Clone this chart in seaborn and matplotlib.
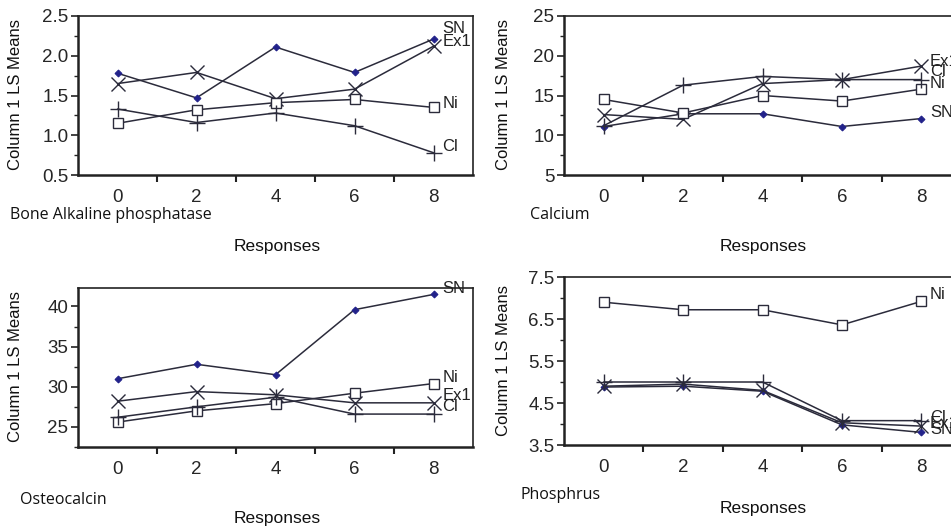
import matplotlib
matplotlib.use("Agg")
import matplotlib.pyplot as plt
import seaborn as sns
import pandas as pd
from matplotlib.ticker import MultipleLocator

# doses on the x axis
responses = [0, 2, 4, 6, 8]
series_names = ["SN", "Ex1", "Ni", "Cl"]

# Bone Alkaline phosphatase
bap_sn = [1.78, 1.47, 2.11, 1.79, 2.21]
bap_ex1 = [1.65, 1.79, 1.46, 1.58, 2.12]
bap_ni = [1.15, 1.32, 1.41, 1.45, 1.35]
bap_cl = [1.33, 1.16, 1.28, 1.12, 0.78]

# Calcium
ca_sn = [11.1, 12.7, 12.7, 11.1, 12.1]
ca_ex1 = [12.6, 12.0, 16.5, 17.0, 18.7]
ca_ni = [14.5, 12.8, 15.0, 14.3, 15.8]
ca_cl = [11.2, 16.3, 17.4, 17.0, 17.0]

# Osteocalcin
oc_sn = [31.0, 32.8, 31.5, 39.6, 41.5]
oc_ex1 = [28.2, 29.4, 29.0, 28.0, 28.0]
oc_ni = [25.6, 27.0, 27.9, 29.2, 30.4]
oc_cl = [26.2, 27.5, 28.7, 26.6, 26.6]

# Phosphrus
ph_sn = [4.88, 4.90, 4.78, 3.98, 3.80]
ph_ex1 = [4.90, 4.95, 4.80, 4.03, 3.95]
ph_ni = [6.90, 6.72, 6.72, 6.36, 6.92]
ph_cl = [5.00, 5.00, 5.00, 4.08, 4.08]

panels = [
    ("Bone Alkaline phosphatase", [bap_sn, bap_ex1, bap_ni, bap_cl]),
    ("Calcium", [ca_sn, ca_ex1, ca_ni, ca_cl]),
    ("Osteocalcin", [oc_sn, oc_ex1, oc_ni, oc_cl]),
    ("Phosphrus", [ph_sn, ph_ex1, ph_ni, ph_cl]),
]

y_ticks = [
    [0.5, 1.0, 1.5, 2.0, 2.5],
    [5, 10, 15, 20, 25],
    [25, 30, 35, 40],
    [3.5, 4.5, 5.5, 6.5, 7.5],
]
y_tick_labels = [
    ["0.5", "1.0", "1.5", "2.0", "2.5"],
    ["5", "10", "15", "20", "25"],
    ["25", "30", "35", "40"],
    ["3.5", "4.5", "5.5", "6.5", "7.5"],
]


def to_long(values):
    rows = []
    for name, vals in zip(series_names, values):
        for x, y in zip(responses, vals):
            rows.append({"Responses": x, "mean": y, "series": name})
    return pd.DataFrame(rows)


sns.set_theme(style="white")
plt.rcParams['font.family'] = ['Liberation Sans', 'DejaVu Sans']

W, H = 951, 528
fig = plt.figure(figsize=(W / 100, H / 100), dpi=100)


def box(l, r, t, b):
    return [l / W, 1 - b / H, (r - l) / W, (b - t) / H]


line_col = "#2b2b3b"
marker_style = {
    "SN": dict(marker="D", markersize=3.5, markerfacecolor="#22228a", markeredgecolor="#22228a"),
    "Ex1": dict(marker="x", markersize=10, markeredgecolor=line_col, markeredgewidth=1.0),
    "Ni": dict(marker="s", markersize=7.5, markerfacecolor="white", markeredgecolor=line_col, markeredgewidth=1.0),
    "Cl": dict(marker="+", markersize=11, markeredgecolor=line_col, markeredgewidth=1.0),
}

axes_boxes = [box(78, 473, 16, 175), box(564, 961, 16, 175),
              box(78, 473, 288, 447), box(564, 961, 277, 445)]
ylims = [(0.5, 2.5), (5, 25), (22.5, 42.3), (3.5, 7.5)]
yminor = [0.25, 2.5, 2.5, 0.5]
# where the series names sit next to the last point (SN, Ex1, Ni, Cl)
name_y = [[2.34, 2.18, 1.40, 0.86],
          [12.8, 19.3, 16.5, 18.0],
          [42.2, 28.9, 31.2, 27.5],
          [3.86, 4.0, 7.08, 4.16]]
# subtitle and "Responses" positions in pixels
sub_pos = [(10, 215), (530, 215), (20, 500), (520, 495)]
resp_pos = [(277, 247), (763, 247), (277, 518), (763, 508)]
ylab_pos = [(16, 95), (503, 95), (16, 367), (503, 360)]

for i, (title, values) in enumerate(panels):
    ax = fig.add_axes(axes_boxes[i])
    df = to_long(values)
    for name in series_names:
        sub = df[df["series"] == name]
        sns.lineplot(data=sub, x="Responses", y="mean", ax=ax, color=line_col,
                     linewidth=1.1, legend=False, **marker_style[name])
    for name, ly in zip(series_names, name_y[i]):
        ax.text(8.22, ly, name, fontsize=12, va="center", ha="left", color="#222222")

    ax.set_xlim(-1, 9)
    ax.set_ylim(*ylims[i])
    ax.set_xticks(responses)
    ax.set_xticks([1, 3, 5, 7], minor=True)
    ax.tick_params(axis="x", which="major", length=0, pad=10, labelsize=13.5)
    ax.tick_params(axis="x", which="minor", length=5, width=1.5, direction="out", bottom=True, color="#222222")
    ax.set_yticks(y_ticks[i])
    ax.set_yticklabels(y_tick_labels[i])
    ax.yaxis.set_minor_locator(MultipleLocator(yminor[i]))
    ax.tick_params(axis="y", which="major", length=5, width=1.2, left=True, labelsize=13.5, pad=2, color="#222222")
    ax.tick_params(axis="y", which="minor", length=3, width=1.0, left=True, color="#222222")
    ax.set_ylim(*ylims[i])
    ax.set_xlabel("")
    ax.set_ylabel("")
    for side in ["top", "right"]:
        ax.spines[side].set_linewidth(1.2)
        ax.spines[side].set_color("#222222")
    for side in ["left", "bottom"]:
        ax.spines[side].set_linewidth(1.8)
        ax.spines[side].set_color("#222222")

    fig.text(sub_pos[i][0] / W, 1 - sub_pos[i][1] / H, title, fontsize=11.5,
             family=["Open Sans", "DejaVu Sans"], va="center", ha="left", color="#111111")
    fig.text(resp_pos[i][0] / W, 1 - resp_pos[i][1] / H, "Responses", fontsize=12.5,
             va="center", ha="center", color="#111111")
    fig.text(ylab_pos[i][0] / W, 1 - ylab_pos[i][1] / H, "Column 1 LS Means", fontsize=12,
             rotation=90, va="center", ha="center", color="#111111")

plt.savefig("out.png", dpi=100)
